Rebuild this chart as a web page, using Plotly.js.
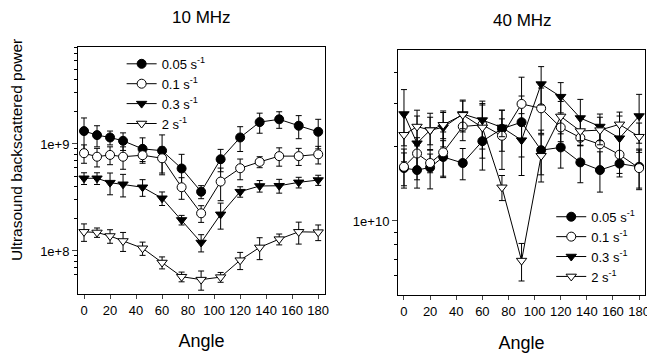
<!DOCTYPE html>
<html>
<head>
<meta charset="utf-8">
<script src="https://cdn.plot.ly/plotly-3.0.1.min.js"></script>
<style>html,body{margin:0;padding:0;background:#fff;}#chart{width:647px;height:354px;}</style>
</head>
<body>
<div id="chart"></div>
<script>
const angles = [0,10,20,30,45,60,75,90,105,120,135,150,165,180];
const seriesNames = ['0.05 s<sup>-1</sup>','0.1 s<sup>-1</sup>','0.3 s<sup>-1</sup>','2 s<sup>-1</sup>'];

// 10 MHz
const mhz10_s005 = [1.32e9,1.21e9,1.15e9,1.07e9,9.0e8,8.65e8,5.9e8,3.58e8,7.2e8,1.15e9,1.6e9,1.7e9,1.48e9,1.3e9];
const mhz10_s005_err = [4.3e8,2.7e8,1.7e8,2.0e8,2.4e8,3.5e8,2.1e8,5e7,1.7e8,3.0e8,3.4e8,3.0e8,3.6e8,4.0e8];
const mhz10_s01 = [8.2e8,7.6e8,7.9e8,7.6e8,7.85e8,7.35e8,3.94e8,2.25e8,4.45e8,5.93e8,6.8e8,7.7e8,7.7e8,8.0e8];
const mhz10_s01_err = [1.6e8,1.5e8,1.5e8,1.8e8,1.0e8,2.0e8,0.9e8,0.4e8,1.5e8,1.3e8,0.8e8,1.5e8,1.4e8,1.5e8];
const mhz10_s03 = [4.78e8,4.78e8,4.35e8,4.2e8,3.94e8,3.11e8,1.95e8,1.2e8,2.2e8,3.58e8,4.05e8,4.07e8,4.38e8,4.6e8];
const mhz10_s03_err = [0.6e8,0.6e8,1.0e8,1.0e8,0.7e8,0.45e8,0.2e8,0.22e8,0.6e8,0.4e8,0.5e8,0.6e8,0.5e8,0.5e8];
const mhz10_s2 = [1.51e8,1.49e8,1.38e8,1.24e8,1.06e8,7.8e7,5.75e7,5.4e7,5.7e7,8.2e7,1.08e8,1.29e8,1.51e8,1.5e8];
const mhz10_s2_err = [2.8e7,1.5e7,2.0e7,2.5e7,1.5e7,1.0e7,0.6e7,1.1e7,0.6e7,1.5e7,2.5e7,1.5e7,3.5e7,2.5e7];

// 40 MHz
const mhz40_s005 = [1.64e10,1.61e10,1.65e10,1.82e10,1.72e10,2.11e10,2.37e10,2.52e10,1.94e10,1.99e10,1.73e10,1.61e10,1.71e10,1.66e10];
const mhz40_s005_err = [0.25e10,0.25e10,0.3e10,0.3e10,0.25e10,0.5e10,0.45e10,0.7e10,0.4e10,0.35e10,0.3e10,0.3e10,0.2e10,0.3e10];
const mhz40_s01 = [1.66e10,1.88e10,1.72e10,1.90e10,2.42e10,2.46e10,2.22e10,2.99e10,2.87e10,2.40e10,2.18e10,2.05e10,1.86e10,1.64e10];
const mhz40_s01_err = [0.3e10,0.3e10,0.15e10,0.4e10,0.3e10,0.5e10,0.6e10,0.85e10,0.6e10,0.3e10,0.15e10,0.4e10,0.3e10,0.3e10];
const mhz40_s03 = [2.72e10,2.07e10,2.34e10,2.40e10,2.72e10,2.57e10,2.40e10,2.13e10,3.60e10,3.20e10,2.62e10,2.42e10,2.17e10,2.67e10];
const mhz40_s03_err = [0.7e10,0.6e10,0.4e10,0.4e10,0.35e10,0.5e10,0.2e10,0.6e10,0.64e10,0.45e10,0.5e10,0.3e10,0.5e10,0.6e10];
const mhz40_s2 = [2.24e10,2.42e10,2.34e10,2.46e10,2.70e10,2.40e10,1.37e10,6.9e9,1.84e10,2.66e10,2.32e10,2.34e10,2.47e10,2.20e10];
const mhz40_s2_err = [0.5e10,0.4e10,0.3e10,0.3e10,0.4e10,0.6e10,0.16e10,0.12e10,0.4e10,0.4e10,0.3e10,0.3e10,0.3e10,0.3e10];

const symbols = ['circle','circle-open','triangle-down','triangle-down-open'];
const FONT = 'Liberation Sans, Arial, sans-serif';

function mk(y, err, i, xa, ya, leg) {
  const open = symbols[i].indexOf('open') >= 0;
  return {
    x: angles, y: y, type: 'scatter', mode: 'lines+markers',
    name: seriesNames[i], xaxis: xa, yaxis: ya, legend: leg,
    line: {color: '#000', width: 1},
    marker: {symbol: open ? symbols[i].replace('-open','') : symbols[i], size: 9,
             color: open ? '#fff' : '#000', line: {color: '#000', width: 1}},
    error_y: {type: 'data', array: err, visible: true, color: '#000', thickness: 1, width: 3}
  };
}

const data = [
  mk(mhz10_s005, mhz10_s005_err, 0, 'x', 'y', 'legend'),
  mk(mhz10_s01, mhz10_s01_err, 1, 'x', 'y', 'legend'),
  mk(mhz10_s03, mhz10_s03_err, 2, 'x', 'y', 'legend'),
  mk(mhz10_s2, mhz10_s2_err, 3, 'x', 'y', 'legend'),
  mk(mhz40_s005, mhz40_s005_err, 0, 'x2', 'y2', 'legend2'),
  mk(mhz40_s01, mhz40_s01_err, 1, 'x2', 'y2', 'legend2'),
  mk(mhz40_s03, mhz40_s03_err, 2, 'x2', 'y2', 'legend2'),
  mk(mhz40_s2, mhz40_s2_err, 3, 'x2', 'y2', 'legend2')
];

const xtickvals = [0,20,40,60,80,100,120,140,160,180];
const xBase = {
  range: [-4.6, 185.2], tickvals: xtickvals, ticks: 'outside', ticklen: 4,
  showline: true, mirror: true, linecolor: '#000', linewidth: 1, showgrid: false, zeroline: false,
  ticklabeloverflow: 'allow',
  tickfont: {family: FONT, size: 13, color: '#000'},
  title: {text: 'Angle', font: {family: FONT, size: 18, color: '#000'}, standoff: 17}
};
const minorLeft = [6e7,7e7,8e7,9e7,2e8,3e8,4e8,5e8,6e8,7e8,8e8,9e8,2e9,3e9,4e9,5e9,6e9,7e9,8e9];
const minorRight = [6e9,7e9,8e9,9e9,2e10,3e10,4e10];

const layout = {
  width: 647, height: 354,
  margin: {l: 0, r: 0, t: 0, b: 0},
  paper_bgcolor: '#fff', plot_bgcolor: '#fff',
  font: {family: FONT, color: '#000'},
  xaxis: Object.assign({}, xBase, {domain: [0.1206, 0.5023], anchor: 'y'}),
  xaxis2: Object.assign({}, xBase, {domain: [0.6151, 0.9969], anchor: 'y2', range: [-4.6, 184.5],
    title: {text: 'Angle', font: {family: FONT, size: 18, color: '#000'}, standoff: 18}}),
  yaxis: {
    type: 'log', range: [7.598, 9.906], domain: [0.1695, 0.8672], anchor: 'x',
    tickvals: [1e8, 1e9], ticktext: ['1e+8', '1e+9'], ticks: 'outside', ticklen: 5,
    minor: {tickvals: minorLeft, ticks: 'outside', ticklen: 3, tickcolor: '#000'},
    showline: true, mirror: true, linecolor: '#000', linewidth: 1, showgrid: false, zeroline: false,
    tickfont: {family: FONT, size: 13, color: '#000'}
  },
  yaxis2: {
    type: 'log', range: [9.699, 10.695], domain: [0.1667, 0.8588], anchor: 'x2',
    tickvals: [1e10], ticktext: ['1e+10'], ticks: 'outside', ticklen: 5,
    minor: {tickvals: minorRight, ticks: 'outside', ticklen: 3, tickcolor: '#000'},
    showline: true, mirror: true, linecolor: '#000', linewidth: 1, showgrid: false, zeroline: false,
    tickfont: {family: FONT, size: 13, color: '#000'}
  },
  legend: {x: 0.188, y: 0.862, xanchor: 'left', yanchor: 'top', bgcolor: 'rgba(0,0,0,0)',
           font: {family: FONT, size: 13, color: '#000'}, tracegroupgap: 0},
  legend2: {x: 0.852, y: 0.43, xanchor: 'left', yanchor: 'top', bgcolor: 'rgba(0,0,0,0)',
            font: {family: FONT, size: 13, color: '#000'}, tracegroupgap: 0},
  annotations: [
    {text: '10 MHz', xref: 'paper', yref: 'paper', x: 0.311, y: 1 - 18/354, xanchor: 'center', yanchor: 'middle',
     showarrow: false, font: {family: FONT, size: 17, color: '#000'}},
    {text: '40 MHz', xref: 'paper', yref: 'paper', x: 0.807, y: 1 - 20/354, xanchor: 'center', yanchor: 'middle',
     showarrow: false, font: {family: FONT, size: 17, color: '#000'}},
    {text: 'Ultrasound backscattered power', xref: 'paper', yref: 'paper', x: 16/647, y: 1 - 150/354,
     xanchor: 'center', yanchor: 'middle', textangle: -90, showarrow: false,
     font: {family: FONT, size: 15.5, color: '#000'}}
  ],
  showlegend: true
};

Plotly.newPlot('chart', data, layout, {displayModeBar: false, staticPlot: true});
</script>
</body>
</html>
